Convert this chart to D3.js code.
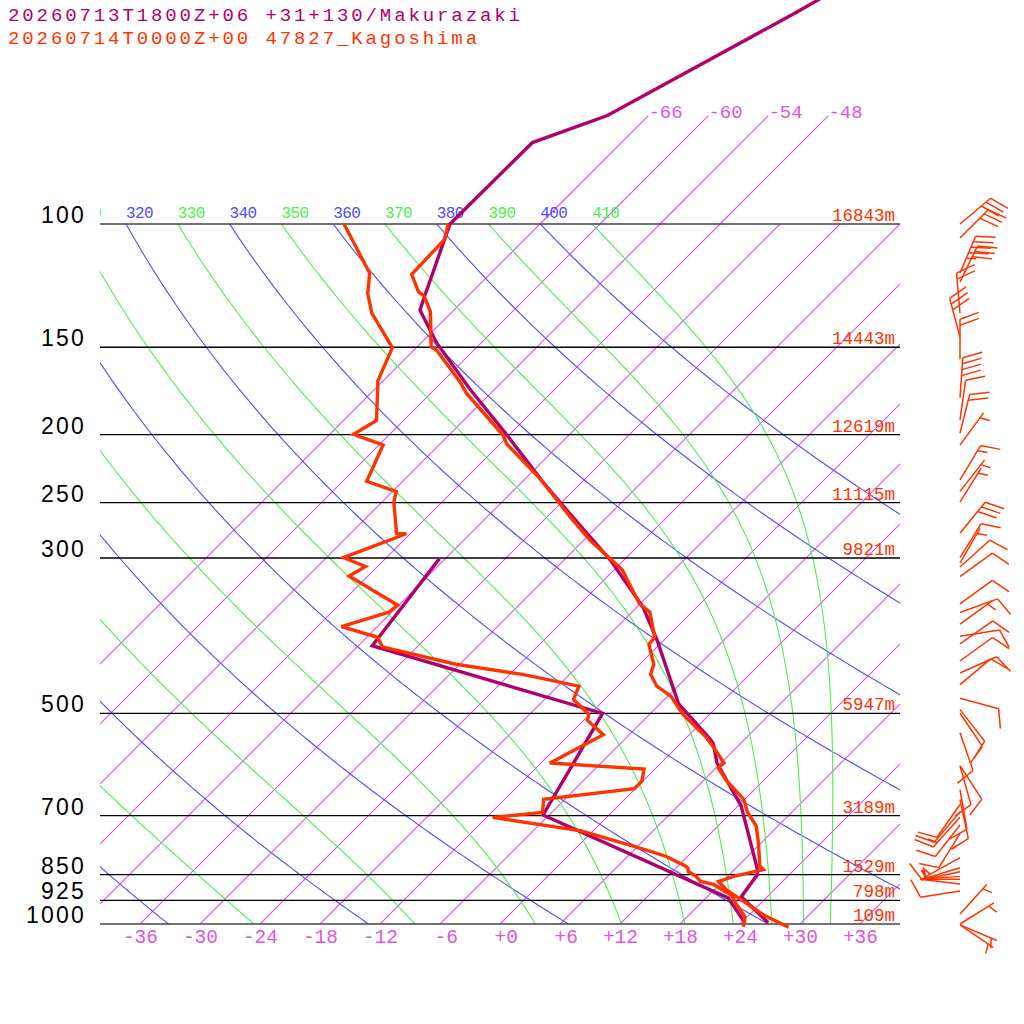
<!DOCTYPE html>
<html>
<head>
<meta charset="utf-8">
<script src="https://cdn.jsdelivr.net/npm/d3@7/dist/d3.min.js"></script>
<style>
body { margin: 0; background: #fff; }
text { font-family: "Liberation Mono", "DejaVu Sans Mono", monospace; }
text.plab { font-family: "Liberation Sans", Arial, sans-serif; }
</style>
</head>
<body>
<svg id="chart" width="1024" height="1024"></svg>
<script>
// ---- data ----
const titles = ["20260713T1800Z+06 +31+130/Makurazaki", "20260714T0000Z+00 47827_Kagoshima"];

const levels = [100, 150, 200, 250, 300, 500, 700, 850, 925, 1000];
const heights = ["16843m", "14443m", "12619m", "11115m", "9821m", "5947m", "3189m", "1529m", "798m", "109m"];

const tempTicks = [-36, -30, -24, -18, -12, -6, 0, 6, 12, 18, 24, 30, 36];
const isotherms = [-66, -60, -54, -48, -42, -36, -30, -24, -18, -12, -6, 0, 6, 12, 18, 24, 30, 36];
const upperIsotherms = [-66, -60, -54, -48];
const dryThetas = [240, 260, 280, 300, 320, 340, 360, 380, 400];
const moistThetas = [250, 270, 290, 310, 330, 350, 370, 390, 410];
const thetaLabels = [310, 320, 330, 340, 350, 360, 370, 380, 390, 400, 410];

// Makurazaki (magenta)
const mkP  = [45, 50, 70, 76.5, 100, 126.3, 132.7, 148, 171.8, 200.2, 233.7, 259.1, 282.9, 301.8, 352.5, 393.8, 484.2, 545, 552.5, 588.9, 678, 836, 850, 914, 996];
const mkT  = [-59.2, -61.6, -70.1, -74.9, -75.0, -70.4, -69.4, -64.4, -56.6, -48.2, -39.9, -34.1, -29.1, -25.4, -17.4, -12.6, -4.2, 2.6, 3.3, 5.6, 12.3, 20.3, 20.8, 21.4, 26.7];
const mkDP = [300.6, 400.4, 500.3, 595.5, 698.6, 917.6, 996.7];
const mkTd = [-42.6, -40.6, -10.8, -8.6, -6.6, 20.2, 24.4];

// Kagoshima (red)
const kgP  = [100, 105.1, 118, 124.9, 126.7, 133.4, 149.8, 151.5, 168.1, 174.6, 200.2, 206.3, 230.8, 262, 282.9, 306.9, 311.9, 348.6, 358.5, 389.4, 398.2, 425.5, 440, 457.4, 472.6, 501.6, 540.7, 558.3, 588.9, 598.5, 625, 663.5, 692.8, 724, 765, 826.9, 836, 854.8, 869.5, 894.6, 925.9, 970, 1011];
const kgT  = [-75.2, -74.0, -73.8, -71.4, -70.4, -68.2, -64.6, -63.7, -58.2, -56.4, -48.6, -47.3, -40.6, -33.7, -29.4, -24.2, -23.2, -18.1, -16.2, -13.2, -13.1, -10.6, -9.9, -8.1, -5.7, -2.7, 1.9, 3.6, 6.3, 6.2, 8.4, 11.9, 13.6, 15.8, 17.7, 20.2, 20.9, 18.6, 17.6, 19.3, 21.9, 25.4, 29.2];
const kgDP = [100, 117.6, 125.6, 134.1, 150.2, 167.7, 174.6, 190.9, 199.8, 206.8, 233.1, 241.2, 249.7, 276.7, 277, 299.6, 308.5, 318.3, 350.5, 358.5, 375.9, 389.4, 401.8, 425.5, 440, 457.4, 477.8, 501.6, 512, 536.4, 588.9, 600.5, 625, 640.6, 663.5, 692.8, 704.3, 736.1, 777.5, 800.2, 826.9, 832, 841.9, 853, 869.5, 878, 910, 934, 977, 1009];
const kgTd = [-85.6, -78.1, -76.3, -73.9, -68.4, -66.5, -65.3, -62.7, -63.6, -59.6, -57.6, -53.6, -52.8, -49.4, -48.4, -52.3, -49.2, -49.9, -42.1, -42.3, -45.6, -40.9, -39.5, -30.4, -22.7, -15.9, -15.1, -12.1, -11.6, -8.6, -11.1, -1.1, -0.1, -0.1, -8.1, -6.9, -11.4, -1.2, 6.1, 9.8, 12.8, 13.2, 13.6, 14.7, 15.8, 17.4, 20.3, 21.5, 23.8, 24.6];

// Kagoshima winds: pressure (hPa), direction (deg), speed (kt)
const windP   = [100, 104.7, 117.5, 121, 134, 145, 156, 177, 190.5, 199, 207, 232, 241, 249.6, 276.6, 299.6, 305, 309, 319, 349, 359, 373, 388, 398, 421, 438, 455, 476, 494, 500, 533, 594, 595, 643, 664, 675, 691, 704, 722, 743, 804, 831, 842, 855, 863, 877, 897, 968, 1000, 1003, 1003];
const windDir = [50, 45, 23, 26, 355, 345, 0, 4, 8, 14, 36, 31, 38, 32, 39, 32, 30, 48, 54, 54, 70, 54, 81, 55, 54, 66, 50, 105, 142, 146, 161, 147, 164, 170, 168, 215, 220, 222, 218, 212, 241, 253, 258, 266, 270, 277, 261, 42, 58, 113, 124];
const windSpd = [30, 30, 45, 30, 20, 30, 20, 40, 10, 20, 5, 15, 5, 5, 30, 10, 5, 10, 10, 10, 10, 5, 10, 10, 10, 10, 10, 10, 10, 10, 10, 10, 10, 10, 10, 10, 10, 15, 10, 10, 5, 10, 5, 5, 5, 5, 10, 5, 5, 5, 5];

// ---- colours ----
const magentaCol = "#b0006c";
const redCol = "#ff3300";
const isoCol = "#dc50f8";
const pinkCol = "#e055e0";
const blueCol = "#4d4dff";
const greenCol = "#4cf04c";

// ---- scales ----
const svg = d3.select("#chart");
const y = d3.scaleLog().domain([100, 1000]).range([224, 924]);
const xT = d3.scaleLinear().domain([-40, 40]).range([100, 900]);
const skew = 1;
const sx = (t, p) => xT(t) + (y(1000) - y(p)) * skew;

const defs = svg.append("defs");
defs.append("clipPath").attr("id", "box")
    .append("rect").attr("x", 100).attr("y", 224).attr("width", 800).attr("height", 700);
defs.append("clipPath").attr("id", "labelbox")
    .append("rect").attr("x", 100).attr("y", 180).attr("width", 800).attr("height", 50);

const line = d3.line().x(d => sx(d[1], d[0])).y(d => y(d[0]));

// pressures used to trace the adiabats
const tracePs = [];
for (let p = 100; p <= 1000; p += 5) tracePs.push(p);

// pseudo-adiabat slope (K per hPa)
const dTdp = (p, T) => {
    const es = 6.112 * Math.exp(17.67 * (T - 273.15) / (T - 29.65));
    const rs = 0.622 * es / (p - es);
    const Rd = 287.04, Cp = 1005.7, Lv = 2.501e6;
    return (Rd * T + Lv * rs) / (p * (Cp + Lv * Lv * rs * 0.622 / (Rd * T * T)));
};
const moistCurve = (theta) => {
    let T = theta * Math.pow(0.1, 0.2857);
    const pts = [[100, T - 273.15]];
    const h = 5;
    for (let p = 100; p < 1000; p += h) {
        const k1 = dTdp(p, T);
        const k2 = dTdp(p + h / 2, T + h / 2 * k1);
        const k3 = dTdp(p + h / 2, T + h / 2 * k2);
        const k4 = dTdp(p + h, T + h * k3);
        T += h / 6 * (k1 + 2 * k2 + 2 * k3 + k4);
        pts.push([p + h, T - 273.15]);
    }
    return pts;
};
const dryCurve = (theta) => tracePs.map(p => [p, theta * Math.pow(p / 1000, 0.2857) - 273.15]);

// ---- background grid ----
const grid = svg.append("g").attr("clip-path", "url(#box)").attr("fill", "none");

// isotherms as plain svg lines, clipped to the box
grid.append("g").selectAll("line").data(isotherms).enter().append("line")
    .attr("x1", t => sx(t, 1000)).attr("y1", y(1000))
    .attr("x2", t => sx(t, 100)).attr("y2", y(100))
    .attr("stroke", isoCol).attr("stroke-width", 1.1);

grid.append("g").attr("stroke", blueCol).attr("stroke-width", 1.1)
    .selectAll("path").data(dryThetas).enter().append("path")
    .attr("d", th => line(dryCurve(th)));

grid.append("g").attr("stroke", greenCol).attr("stroke-width", 1.1)
    .selectAll("path").data(moistThetas).enter().append("path")
    .attr("d", th => line(moistCurve(th)));

// isotherms that go on above 100 hPa
svg.append("g").selectAll("line").data(upperIsotherms).enter().append("line")
    .attr("x1", t => sx(t, 100)).attr("y1", y(100))
    .attr("x2", t => sx(t, 70)).attr("y2", y(70))
    .attr("stroke", isoCol).attr("stroke-width", 1.1);
svg.append("g").selectAll("text").data(upperIsotherms).enter().append("text")
    .attr("x", t => sx(t, 70)).attr("y", y(70) + 2)
    .attr("font-size", 19).attr("fill", pinkCol)
    .text(t => String(t));

// theta labels along the 100 hPa line
svg.append("g").attr("clip-path", "url(#labelbox)")
    .selectAll("text").data(thetaLabels).enter().append("text")
    .attr("x", th => sx(th * Math.pow(0.1, 0.2857) - 273.15, 100))
    .attr("y", y(100) - 6)
    .attr("font-size", 16).attr("letter-spacing", -0.6)
    .attr("fill", th => (th / 10) % 2 === 0 ? blueCol : greenCol)
    .text(th => th);

// pressure lines
svg.append("g").selectAll("line").data(levels).enter().append("line")
    .attr("x1", 100).attr("x2", 900)
    .attr("y1", p => y(p)).attr("y2", p => y(p))
    .attr("stroke", p => (p === 100 || p === 1000) ? "#444" : "#000")
    .attr("stroke-width", p => (p === 100 || p === 1000) ? 1.6 : 1.3);

svg.append("g").selectAll("text").data(levels).enter().append("text")
    .attr("class", "plab")
    .attr("x", 86).attr("y", p => y(p) - 1)
    .attr("text-anchor", "end").attr("font-size", 23).attr("letter-spacing", 2.2)
    .attr("fill", "#000")
    .text(p => p);

svg.append("g").selectAll("text").data(levels).enter().append("text")
    .attr("x", 895).attr("y", p => y(p) - 3)
    .attr("text-anchor", "end").attr("font-size", 17.5).attr("fill", redCol)
    .text((p, i) => heights[i]);

// temperature ticks along the bottom
svg.append("g").selectAll("text").data(tempTicks).enter().append("text")
    .attr("x", t => xT(t) + 18).attr("y", 943)
    .attr("text-anchor", "end").attr("font-size", 19.5).attr("fill", pinkCol)
    .text(t => t < 0 ? String(t) : "+" + t);

// ---- soundings ----
const zip = (ps, ts) => ps.map((p, i) => [p, ts[i]]);
const prof = svg.append("g")
    .attr("fill", "none").attr("stroke-width", 3.4)
    .attr("stroke-linejoin", "miter").attr("stroke-miterlimit", 3);

prof.append("path").attr("d", line(zip(mkP, mkT))).attr("stroke", magentaCol);
prof.append("path").attr("d", line(zip(mkDP, mkTd))).attr("stroke", magentaCol);
prof.append("path").attr("d", line(zip(kgP, kgT))).attr("stroke", redCol);
prof.append("path").attr("d", line(zip(kgDP, kgTd))).attr("stroke", redCol);

// ---- wind barbs ----
const barbX = 960, shaftLen = 40, featherLen = 20, gap = 6, featherTurn = 70;
const barbs = svg.append("g").attr("stroke", redCol).attr("stroke-width", 1.5).attr("fill", "none");
const vec = (deg, len) => {
    const r = deg * Math.PI / 180;
    return [Math.sin(r) * len, -Math.cos(r) * len];
};
windP.forEach((p, i) => {
    const x0 = barbX, y0 = y(p);
    const [dx, dy] = vec(windDir[i], shaftLen);
    const tipX = x0 + dx, tipY = y0 + dy;
    barbs.append("line").attr("x1", x0).attr("y1", y0).attr("x2", tipX).attr("y2", tipY);
    let spd = Math.round(windSpd[i] / 5) * 5;
    let k = 0;
    const [ux, uy] = vec(windDir[i], 1);
    const featherAt = (pos, len) => {
        const bx = tipX - ux * pos, by = tipY - uy * pos;
        const [fx, fy] = vec(windDir[i] + featherTurn, len);
        barbs.append("line").attr("x1", bx).attr("y1", by).attr("x2", bx + fx).attr("y2", by + fy);
    };
    if (spd === 5) { featherAt(gap, featherLen / 2); return; }
    while (spd >= 10) { featherAt(k * gap, featherLen); k++; spd -= 10; }
    if (spd === 5) featherAt(k * gap, featherLen / 2);
});

// ---- titles ----
svg.append("g").selectAll("text").data(titles).enter().append("text")
    .attr("x", 8).attr("y", (d, i) => 21 + i * 22.5)
    .attr("font-size", 19).attr("letter-spacing", 2.9)
    .attr("fill", (d, i) => i === 0 ? magentaCol : redCol)
    .text(d => d);
</script>
</body>
</html>
